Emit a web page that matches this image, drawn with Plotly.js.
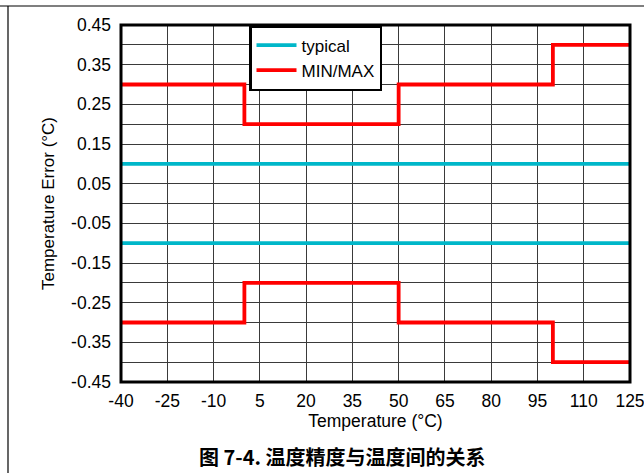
<!DOCTYPE html>
<html>
<head>
<meta charset="utf-8">
<script src="https://cdn.plot.ly/plotly-3.0.1.min.js"></script>
<style>html,body{margin:0;padding:0;background:#fff;}#chart{width:644px;height:473px;}</style>
</head>
<body>
<div id="chart"></div>
<script>
// Data
const typicalX = [-40, 125];
const typicalUpper = [0.1, 0.1];
const typicalLower = [-0.1, -0.1];
const limitX = [-40, 0, 50, 100, 125];
const maxValues = [0.3, 0.2, 0.3, 0.4, 0.4];
const minValues = [-0.3, -0.2, -0.3, -0.4, -0.4];
const xTickVals = [-40, -25, -10, 5, 20, 35, 50, 65, 80, 95, 110, 125];
const xTickText = ['-40', '-25', '-10', '5', '20', '35', '50', '65', '80', '95', '110', '125'];
const yTickVals = [-0.45, -0.35, -0.25, -0.15, -0.05, 0.05, 0.15, 0.25, 0.35, 0.45];
const yTickText = ['-0.45', '-0.35', '-0.25', '-0.15', '-0.05', '0.05', '0.15', '0.25', '0.35', '0.45'];

const cyan = '#00B7C9';
const red = '#FF0000';
const font = 'Liberation Sans, Arial, sans-serif';

const traces = [
  {x: typicalX, y: typicalUpper, mode: 'lines', name: 'typical', line: {color: cyan, width: 3.8}},
  {x: typicalX, y: typicalLower, mode: 'lines', name: 'typical', showlegend: false, line: {color: cyan, width: 3.8}},
  {x: limitX, y: maxValues, mode: 'lines', name: 'MIN/MAX', line: {color: red, width: 3.8, shape: 'hv'}},
  {x: limitX, y: minValues, mode: 'lines', name: 'MIN/MAX', showlegend: false, line: {color: red, width: 3.8, shape: 'hv'}}
];

const L = 121, R = 630, T = 25, B = 382, W = 644, H = 473;
const px = v => (v - L) / (R - L);
const py = v => (B - v) / (B - T);

const layout = {
  width: W, height: H,
  margin: {l: L, r: W - R, t: T, b: H - B},
  paper_bgcolor: '#fff', plot_bgcolor: '#fff',
  font: {family: font, size: 17, color: '#000'},
  showlegend: true,
  legend: {
    x: px(249), y: 1, xanchor: 'left', yanchor: 'top',
    bgcolor: '#fff', bordercolor: '#000', borderwidth: 2.5,
    font: {family: font, size: 17, color: '#000'},
    itemwidth: 40, tracegroupgap: 0
  },
  xaxis: {
    range: [-40, 125], tickmode: 'array', tickvals: xTickVals, ticktext: xTickText,
    showgrid: true, gridcolor: '#3a3a3a', gridwidth: 1,
    zeroline: false, showline: false, ticks: '',
    ticklabeloverflow: 'allow',
    tickfont: {family: font, size: 17.5}, ticklabelstandoff: 6,
    title: {text: 'Temperature (°C)', font: {family: font, size: 17.5}, standoff: 3}
  },
  yaxis: {
    range: [-0.45, 0.45], tickmode: 'array', tickvals: yTickVals, ticktext: yTickText,
    showgrid: true, gridcolor: '#3a3a3a', gridwidth: 1,
    minor: {dtick: 0.1, tick0: -0.4, showgrid: true, gridcolor: '#3a3a3a', gridwidth: 1},
    zeroline: false, showline: false, ticks: '',
    tickfont: {family: font, size: 17.5}, ticklabelstandoff: 9,
    title: {text: 'Temperature Error (°C)', font: {family: font, size: 17}, standoff: 12}
  },
  shapes: [
    {type: 'rect', xref: 'paper', yref: 'paper', x0: 0, x1: 1, y0: 0, y1: 1, line: {color: '#000', width: 3}, layer: 'above'},
    {type: 'line', xref: 'paper', yref: 'paper', x0: px(0), x1: px(W), y0: py(6), y1: py(6), line: {color: '#000', width: 1.2}},
    {type: 'line', xref: 'paper', yref: 'paper', x0: px(8), x1: px(8), y0: py(6), y1: py(H), line: {color: '#000', width: 1.2}}
  ],
  annotations: [
    {xref: 'paper', yref: 'paper', x: px(342), y: py(456), xanchor: 'center', yanchor: 'middle', showarrow: false,
     text: '<b>图 7-4. 温度精度与温度间的关系</b>', font: {family: 'Noto Sans CJK SC, Liberation Sans, sans-serif', size: 20, color: '#000'}}
  ]
};

Plotly.newPlot('chart', traces, layout, {displayModeBar: false, staticPlot: true});
</script>
</body>
</html>
